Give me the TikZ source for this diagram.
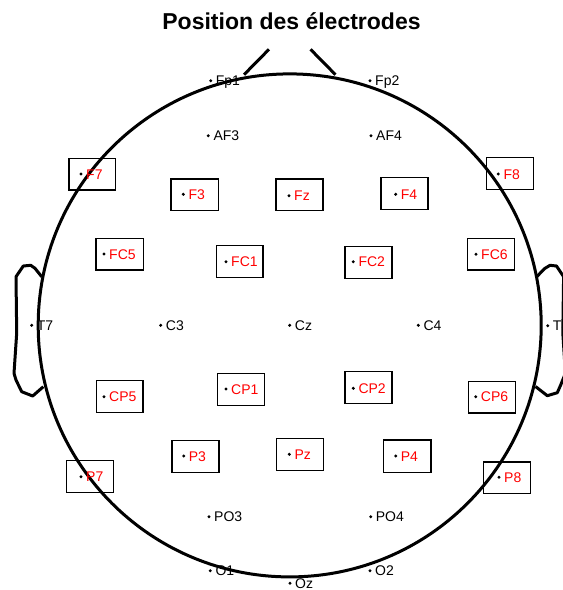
\documentclass[tikz,border=0pt]{standalone}
\usepackage{fontspec}
\setmainfont{Liberation Sans}
\usetikzlibrary{fit}
\newcommand\labfont{\fontsize{14}{14}\selectfont}
\newcommand\ttlfont{\fontsize{23}{23}\selectfont\bfseries}
\tikzset{
  dotst/.style={circle, fill=black, inner sep=0pt, minimum size=3.3pt},
  lab/.style={anchor=base west, inner sep=0pt, font=\labfont},
  redbox/.style={draw=black, line width=1.4pt, inner sep=0pt},
  headline/.style={line width=3pt, line join=round},
}
\begin{document}
\begin{tikzpicture}[x=1pt, y=-1pt]
\useasboundingbox (0,0) rectangle (563,590);
\node[font=\ttlfont, anchor=base, inner sep=0pt] (title) at (291.5,29.5) {Position des électrodes};
% head
\draw[headline] (289.7,325.4) circle[radius=251.5];
\coordinate (nl1) at (244,74.7); \coordinate (nl2) at (269,49.3);
\coordinate (nr1) at (335.5,74.7); \coordinate (nr2) at (310.5,49.3);
\draw[headline, line cap=butt] (nl1) -- (nl2);
\draw[headline, line cap=butt] (nr1) -- (nr2);
\draw[headline] (41.7,276.7) -- (35,268.3) -- (30.7,265.3) -- (23.3,266) -- (16,276.7) -- (16.7,333) -- (14,373.3) -- (16,380) -- (21.7,391.7) -- (32.7,396) -- (43.3,386.7);
\draw[headline] (536.7,276.7) -- (545,268.3) -- (550,265.3) -- (556.5,266) -- (563.6,276.7) -- (562.8,333) -- (565.4,373.3) -- (560.7,385) -- (557.3,392.7) -- (547.3,395.7) -- (535.5,386.5);
% boxes
\foreach \n/\bl/\bt/\br/\bb in {F7/69/158.3/115.7/190, F3/171/179/218.3/210.7, Fz/276/179/323/210.7, F4/381/177.3/428/209.3, F8/486.7/157.3/533.7/189.3,
  FC5/96/238.3/143.3/270, FC1/216.3/245.7/263/277.3, FC2/345/246.3/392/278.3, FC6/467.7/238.3/514.3/270,
  CP5/96.3/380.7/143/412.3, CP1/217.3/373.7/264.3/405.3, CP2/345/371.7/392/403.3, CP6/468.3/381.3/515.3/413,
  P7/66.7/460.7/113.3/492.3, P3/172/440.7/219/472.3, Pz/276.7/438.3/323.7/470.7, P4/383.7/440/431/472.3, P8/483.3/462/530.3/493.3}
  {\node[redbox, fit={(\bl,\bt) (\br,\bb)}] (b\n) {};}
% electrodes
\foreach \n/\x/\y/\c in {Fp1/210.7/80.7/black, Fp2/370/80.7/black, AF3/208.3/135.7/black, AF4/371/135.7/black,
  F7/81/174/red, F3/183.3/194.3/red, Fz/289/195.7/red, F4/395.7/194.3/red, F8/498.3/174/red,
  FC5/104/254/red, FC1/226/261.7/red, FC2/353.3/261.7/red, FC6/476/254.3/red,
  T7/31.7/325.3/black, C3/160.7/325.3/black, Cz/289.7/325.3/black, C4/418.3/325.3/black, T8/547.7/325.7/black,
  CP5/104/396.7/red, CP1/226/389/red, CP2/353.3/388.3/red, CP6/475.7/396.7/red,
  P7/81/476.7/red, P3/183.7/456/red, Pz/289.3/454.3/red, P4/395.7/456/red, P8/499/477.3/red,
  PO3/209/516.7/black, PO4/370.7/516.7/black, O1/210.3/570.7/black, Oz/290/583.3/black, O2/370/570.7/black}
  {\node[dotst] (d\n) at (\x,\y) {};
   \node[lab, text=\c] (l\n) at (\x+5,\y+5) {\n};}
\end{tikzpicture}
\end{document}
